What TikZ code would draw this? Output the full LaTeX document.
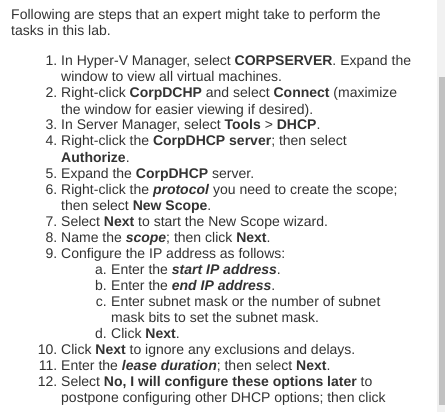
\documentclass[tikz,border=0pt]{standalone}
\usepackage{fontspec}
\setmainfont{Liberation Sans}
\definecolor{txt}{HTML}{333333}
\definecolor{track}{HTML}{F1F1F1}
\definecolor{thumb}{HTML}{C1C1C1}
\tikzset{
  line/.style={anchor=base west,inner sep=0pt,text=txt,font=\fontsize{14}{16}\selectfont},
  num/.style={anchor=base east,inner sep=0pt,text=txt,font=\fontsize{14}{16}\selectfont},
}
\newcommand{\bi}[1]{\textbf{\textit{#1}}}
\begin{document}
\begin{tikzpicture}[x=1pt,y=-1pt]
\useasboundingbox (0,0) rectangle (445,412);
\fill[white] (0,0) rectangle (445,412);
% scrollbar
\fill[track] (437,0) rectangle (445,412);
\fill[thumb] (439,77) rectangle (445,405);
% intro
\node[line] (p1) at (11,20) {Following are steps that an expert might take to perform the};
\node[line] (p2) at (11,36) {tasks in this lab.};
% list
\node[num] (n1) at (57.5,66) {1.};
\node[line] (l1a) at (61,66) {In Hyper-V Manager, select \textbf{CORPSERVER}. Expand the};
\node[line] (l1b) at (61,82) {window to view all virtual machines.};
\node[num] (n2) at (57.5,98) {2.};
\node[line] (l2a) at (61,98) {Right-click \textbf{CorpDCHP} and select \textbf{Connect} (maximize};
\node[line] (l2b) at (61,114) {the window for easier viewing if desired).};
\node[num] (n3) at (57.5,130) {3.};
\node[line] (l3) at (61,130) {In Server Manager, select \textbf{Tools} > \textbf{DHCP}.};
\node[num] (n4) at (57.5,146) {4.};
\node[line] (l4a) at (61,146) {Right-click the \textbf{CorpDHCP server}; then select};
\node[line] (l4b) at (61,162) {\textbf{Authorize}.};
\node[num] (n5) at (57.5,178) {5.};
\node[line] (l5) at (61,178) {Expand the \textbf{CorpDHCP} server.};
\node[num] (n6) at (57.5,194) {6.};
\node[line] (l6a) at (61,194) {Right-click the \bi{protocol} you need to create the scope;};
\node[line] (l6b) at (61,210) {then select \textbf{New Scope}.};
\node[num] (n7) at (57.5,226) {7.};
\node[line] (l7) at (61,226) {Select \textbf{Next} to start the New Scope wizard.};
\node[num] (n8) at (57.5,242) {8.};
\node[line] (l8) at (61,242) {Name the \bi{scope}; then click \textbf{Next}.};
\node[num] (n9) at (57.5,258) {9.};
\node[line] (l9) at (61,258) {Configure the IP address as follows:};
\node[num] (na) at (107,274) {a.};
\node[line] (la) at (111,274) {Enter the \bi{start IP address}.};
\node[num] (nb) at (107,290) {b.};
\node[line] (lb) at (111,290) {Enter the \bi{end IP address}.};
\node[num] (nc) at (107,306) {c.};
\node[line] (lca) at (111,306) {Enter subnet mask or the number of subnet};
\node[line] (lcb) at (111,322) {mask bits to set the subnet mask.};
\node[num] (nd) at (107,338) {d.};
\node[line] (ld) at (111,338) {Click \textbf{Next}.};
\node[num] (n10) at (57.5,354) {10.};
\node[line] (l10) at (61,354) {Click \textbf{Next} to ignore any exclusions and delays.};
\node[num] (n11) at (57.5,370) {11.};
\node[line] (l11) at (61,370) {Enter the \bi{lease duration}; then select \textbf{Next}.};
\node[num] (n12) at (57.5,386) {12.};
\node[line] (l12a) at (61,386) {Select \textbf{No, I will configure these options later} to};
\node[line] (l12b) at (61,402) {postpone configuring other DHCP options; then click};
\end{tikzpicture}
\end{document}
